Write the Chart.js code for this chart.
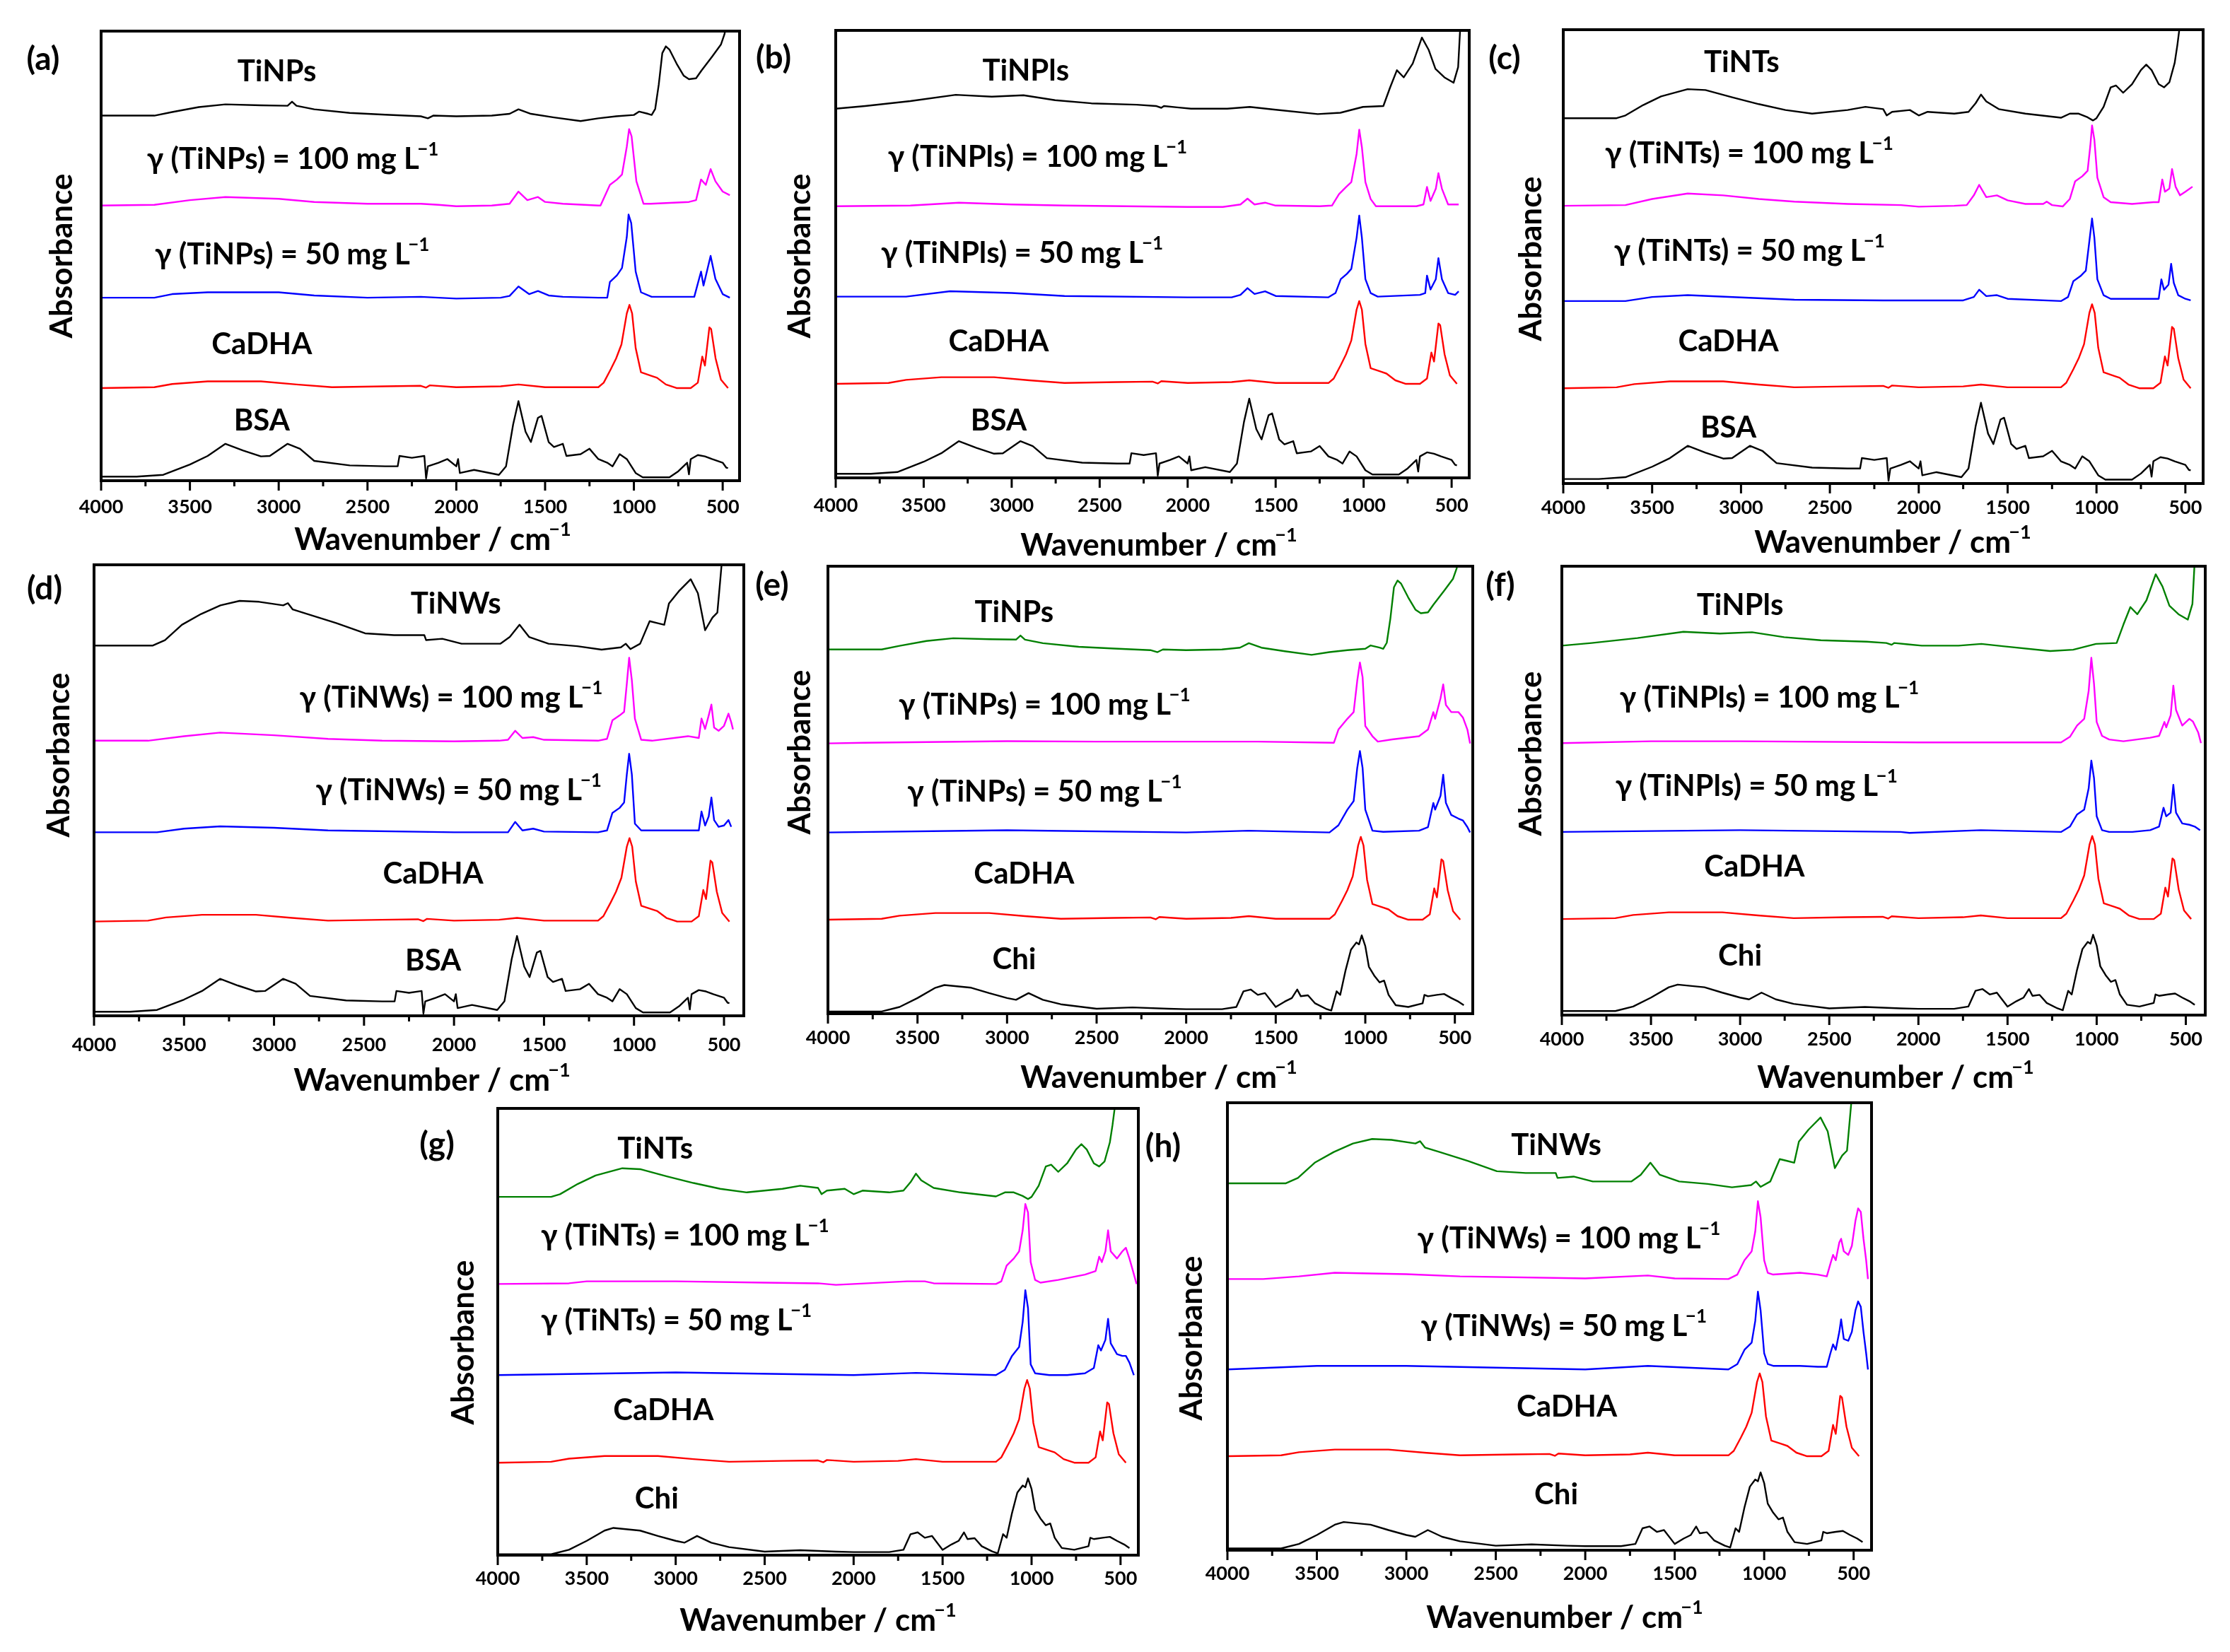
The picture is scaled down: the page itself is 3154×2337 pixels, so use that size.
<!DOCTYPE html>
<html><head><meta charset="utf-8">
<script src="https://cdn.jsdelivr.net/npm/chart.js@4.4.1/dist/chart.umd.min.js"></script>
<style>
html,body{margin:0;padding:0;background:#fff;}
body{width:3154px;height:2337px;position:relative;overflow:hidden;}
canvas.pc{position:absolute;}
</style></head><body>
<script>
// ---------- tick labels (wavenumber axis) ----------
const tickValues = [4000,3750,3500,3250,3000,2750,2500,2250,2000,1750,1500,1250,1000,750,500];

// ---------- spectra: [wavenumber cm-1, absorbance (relative, % of panel height)] ----------
const TiNPs = [[4000,0],[3700,0],[3600,0.8],[3450,1.9],[3300,2.5],[3100,2.3],[2950,2.2],[2925,3.1],[2900,2.2],[2800,1.4],[2600,0.6],[2400,0.2],[2200,-0.15],[2160,-0.6],[2130,0],[2000,-0.15],[1800,0],[1700,0.4],[1650,1.4],[1580,0.4],[1450,-0.4],[1300,-1.2],[1200,-0.6],[1100,-0.15],[1000,0.15],[970,0.9],[920,0.4],[900,0.15],[880,1.5],[860,6.9],[840,13.9],[820,15.4],[800,14.7],[760,11.6],[720,8.9],[690,8.1],[650,8.3],[620,10],[560,13.1],[510,15.8],[490,18.1],[475,21]];
const TiNPls = [[4000,0],[3833,0.6],[3576,1.7],[3318,3.1],[3113,2.7],[2933,3.0],[2753,1.9],[2547,1.2],[2290,0.9],[2180,0.6],[2150,0.2],[2135,0.6],[2060,0.3],[1981,0],[1775,0],[1647,0.4],[1518,-0.15],[1261,-1.2],[1132,-0.9],[1004,0.4],[888,0.6],[850,4.7],[811,8.6],[772,7.0],[721,10.1],[669,15.9],[631,13.2],[592,8.9],[541,7.0],[489,5.8],[463,9.3],[450,19]];
const TiNTs = [[4000,0],[3700,0],[3650,0.6],[3550,2.9],[3450,4.8],[3300,6.4],[3200,6.2],[3050,4.6],[2900,3.1],[2750,1.8],[2600,1.0],[2400,1.8],[2300,2.5],[2200,2.0],[2180,0.6],[2150,1.4],[2050,1.8],[2000,0.6],[1950,1.4],[1800,1.0],[1720,1.4],[1680,3.3],[1650,5.2],[1620,3.7],[1550,2.0],[1400,1.0],[1200,0.1],[1150,1.0],[1100,1.0],[1050,0.2],[1020,-0.5],[1000,0],[960,2.5],[920,6.8],[890,7.2],[850,5.6],[800,7.5],[750,10.6],[720,11.8],[690,10.6],[650,7.5],[620,6.8],[590,7.9],[560,12.2],[545,16.1],[535,19.2],[525,22]];
const TiNWs = [[4000,0],[3673,0],[3606,1.2],[3512,4.6],[3405,7.0],[3298,8.9],[3191,9.9],[3083,9.7],[2949,8.9],[2923,9.4],[2896,8.0],[2815,7.0],[2655,5.0],[2494,2.7],[2333,2.3],[2165,2.3],[2155,1.2],[2065,1.5],[1958,0.4],[1743,0.4],[1690,1.9],[1636,4.6],[1583,1.9],[1475,0.4],[1315,-0.15],[1180,-0.9],[1073,-0.4],[1046,0.4],[1020,-0.8],[966,0.4],[913,5.4],[872,5.0],[832,4.6],[806,9.3],[752,12.0],[685,14.7],[645,11.6],[605,3.4],[564,6.2],[537,7.3],[524,13.1],[511,19]];
const CaDHA = [[4000,0],[3700,0.2],[3600,0.9],[3400,1.5],[3100,1.5],[2900,0.8],[2700,0.2],[2400,0.4],[2200,0.5],[2170,0.1],[2150,0.6],[2000,0.2],[1750,0.4],[1650,0.8],[1500,0.2],[1200,0.2],[1170,1.2],[1130,4.2],[1100,6.6],[1070,9.7],[1040,16.6],[1025,18.5],[1010,16.6],[990,8.9],[960,3.5],[900,2.7],[870,2.3],[820,0.8],[760,0],[680,0],[640,1.2],[615,7.0],[600,5.0],[575,13.5],[565,13.1],[540,6.6],[510,1.9],[470,0]];
const BSA = [[4000,0],[3800,0],[3650,0.4],[3500,2.7],[3400,4.6],[3300,7.3],[3200,5.8],[3100,4.5],[3050,4.6],[2950,7.3],[2880,6.2],[2800,3.5],[2600,2.5],[2400,2.3],[2330,2.3],[2320,4.6],[2250,4.2],[2180,4.6],[2170,-0.4],[2160,2.3],[2100,3.1],[2050,3.9],[2000,2.3],[1990,3.9],[1980,0.8],[1900,1.5],[1760,0.4],[1720,2.3],[1680,11.6],[1650,16.8],[1610,10],[1580,7.7],[1540,13.1],[1520,13.5],[1480,7.7],[1450,6.6],[1400,7.3],[1380,4.6],[1300,5.0],[1250,6.2],[1200,3.9],[1150,3.1],[1120,2.3],[1080,5.0],[1040,3.9],[990,0.8],[950,-0.15],[800,-0.15],[750,1.2],[700,3.1],[690,0.5],[680,3.9],[640,4.8],[600,4.5],[560,3.9],[500,3.1],[480,2.0],[470,1.9]];
const Chi = [[4000,0],[3700,0],[3600,1.0],[3500,3.0],[3400,5.3],[3350,5.9],[3200,5.3],[3100,4.1],[3000,3.0],[2950,2.6],[2880,4.1],[2800,2.6],[2700,1.6],[2500,0.6],[2300,0.9],[2100,0.6],[2000,0.5],[1800,0.5],[1720,1.0],[1680,4.5],[1640,4.9],[1600,3.7],[1560,4.1],[1500,1.0],[1450,2.2],[1410,3.0],[1380,4.9],[1360,3.4],[1320,3.6],[1280,1.8],[1220,0.6],[1190,0.2],[1160,4.5],[1140,3.7],[1110,9.2],[1080,13.8],[1050,15.4],[1035,15.0],[1020,17.0],[1000,14.6],[980,10.0],[950,8.0],[920,6.5],[895,6.9],[870,3.7],[830,1.4],[760,1.0],[680,1.8],[670,3.7],[650,3.4],[600,3.7],[560,3.9],[520,3.0],[480,2.2],[450,1.4]];

// composites: gamma = 100 mg/L and 50 mg/L
const a100 = [[4000,0],[3700,0.15],[3500,1.2],[3300,1.9],[3000,1.5],[2800,0.8],[2500,0.4],[2200,0.4],[2100,0.15],[2000,-0.15],[1800,0],[1700,0.4],[1650,3.1],[1600,1.2],[1540,1.9],[1500,0.8],[1400,0.4],[1200,0],[1188,0],[1135,4.6],[1095,5.8],[1067,6.9],[1040,13.1],[1027,17],[1013,15.4],[986,5.4],[946,0.4],[906,0.4],[690,0.8],[650,1.2],[622,5.8],[595,4.6],[568,8.1],[541,5.4],[500,3.1],[460,2.3]];
const a50 = [[4000,0],[3700,0],[3600,0.8],[3400,1.2],[3000,1.2],[2800,0.5],[2500,0],[2200,0.2],[2000,-0.2],[1750,0],[1700,0.4],[1650,2.5],[1590,0.8],[1540,1.5],[1480,0.5],[1400,0.2],[1200,0],[1150,0],[1135,3.5],[1095,5],[1067,6.6],[1040,13.5],[1030,18.5],[1015,16.6],[990,5.8],[960,1.2],[900,0.2],[700,0.2],[660,0.2],[622,5.8],[608,2.7],[568,9.3],[541,4.2],[500,0.8],[460,0]];
const b100 = [[4000,0],[3576,0.15],[3300,0.8],[3000,0.4],[2700,0.15],[2000,-0.15],[1800,-0.15],[1700,0.4],[1660,1.7],[1620,0.4],[1560,0.8],[1500,0.15],[1250,0],[1180,0.15],[1140,2.7],[1100,4.3],[1070,5.4],[1040,11.7],[1025,17.1],[1010,13.2],[990,5.4],[960,1.6],[930,0],[700,0],[660,0.4],[640,4.3],[620,1.2],[590,3.9],[575,7.4],[555,3.9],[520,0.4],[480,0.4],[460,0.4]];
const b50 = [[4000,0],[3600,0],[3350,1.2],[3000,0.8],[2700,0.15],[2000,-0.15],[1750,-0.15],[1700,0.4],[1660,1.9],[1620,0.6],[1560,1.2],[1500,0.15],[1200,-0.15],[1160,0.8],[1130,3.9],[1095,5.1],[1070,6.2],[1040,13.2],[1025,18.1],[1010,13.2],[990,3.9],[960,0.8],[920,0],[680,0.4],[650,0.8],[640,4.7],[620,1.6],[590,3.9],[575,8.6],[555,3.9],[520,0.8],[480,0.4],[460,1.2]];
const c100 = [[4000,0],[3650,0.15],[3500,1.5],[3300,2.7],[3100,2.3],[2900,1.5],[2700,0.9],[2400,0.4],[2100,0.15],[2000,-0.2],[1800,0],[1730,0.15],[1690,2.3],[1660,4.6],[1620,1.9],[1560,2.3],[1500,1.2],[1400,0.4],[1300,0.4],[1280,0.9],[1250,0.15],[1190,-0.15],[1150,1.5],[1120,5.4],[1080,6.5],[1050,7.7],[1035,13.1],[1025,17.7],[1012,14.6],[995,6.2],[960,1.9],[920,0.8],[800,0.4],[680,0.8],[650,0.8],[630,5.8],[615,3.1],[590,3.8],[575,8.1],[555,4.2],[530,2.3],[500,3.1],[460,4.2]];
const c50 = [[4000,0],[3650,0],[3500,0.9],[3300,1.3],[3000,0.8],[2700,0.3],[2200,0.15],[1750,0.15],[1690,0.9],[1660,2.5],[1620,1.1],[1560,1.3],[1500,0.5],[1200,0],[1160,0.9],[1130,4.4],[1090,5.5],[1060,6.7],[1040,13.2],[1025,18.2],[1012,14],[995,4.8],[960,1.3],[920,0.5],[700,0.5],[650,0.5],[635,4.8],[620,2.5],[595,3.6],[580,8.2],[565,4],[540,1.3],[500,0.5],[470,0.15]];
const d100 = [[4000,0],[3700,0],[3500,1.0],[3300,1.8],[3000,1.2],[2700,0.4],[2400,0],[2000,-0.15],[1750,0],[1700,0.2],[1660,2.2],[1620,0.6],[1560,0.8],[1500,0.2],[1200,0],[1150,0.4],[1120,4.5],[1080,5.6],[1055,6.4],[1040,12.6],[1027,18.4],[1012,13.4],[995,4.9],[960,0.2],[900,0],[700,1.0],[640,0.6],[625,4.9],[605,2.6],[585,5.6],[570,8.0],[555,2.9],[530,2.2],[500,3.3],[475,6.0],[460,4.1],[450,2.5]];
const d50 = [[4000,0],[3650,0],[3500,0.8],[3300,1.3],[3000,1.0],[2700,0.4],[2000,0],[1700,0],[1660,2.3],[1620,0.4],[1560,0.8],[1500,0.15],[1200,0],[1150,0.4],[1120,4.3],[1080,5.4],[1055,6.6],[1040,12.8],[1027,17.4],[1012,12.8],[995,1.9],[960,0.4],[700,0.4],[640,0.4],[625,4.6],[605,1.5],[585,3.5],[570,7.7],[555,2.7],[530,1.2],[500,1.5],[475,2.7],[460,1.2]];
const e100 = [[4000,0],[3800,0.15],[3000,0.5],[2500,0.4],[2000,0.4],[1600,0.4],[1175,0.15],[1150,3.1],[1100,5.5],[1065,7],[1045,14],[1030,18.1],[1015,14.8],[1000,3.9],[960,1.6],[930,0.4],[850,0.9],[700,1.6],[650,3.1],[620,7],[610,5.5],[580,10.1],[565,13.2],[550,8.6],[520,7],[480,7],[455,5.8],[430,3.1],[415,0]];
const e50 = [[4000,0],[3000,0.5],[2000,0],[1650,0.4],[1200,0],[1150,1.6],[1100,5.1],[1065,7.0],[1045,14.4],[1030,18.2],[1015,14.4],[1000,5.1],[960,0.4],[900,0.15],[700,0.4],[650,1.2],[620,6.6],[610,5.1],[580,8.2],[565,12.9],[550,6.6],[520,3.9],[480,3.1],[455,2.7],[430,1.2],[415,0]];
const f100 = [[4000,0],[3500,0.4],[3000,0.4],[2000,0.15],[1600,0.15],[1200,0.15],[1150,1.4],[1110,3.9],[1070,5.4],[1045,11.6],[1030,19.0],[1015,13.2],[1000,4.7],[970,1.6],[930,0.8],[850,0.4],[700,1.2],[650,1.6],[620,4.7],[610,3.5],[585,6.2],[570,12.8],[555,7.4],[520,3.9],[480,5.4],[460,4.8],[430,2.3],[415,0]];
const f50 = [[4000,0],[3000,0.4],[2100,0],[2050,-0.2],[1650,0.4],[1200,0],[1150,1.2],[1110,3.9],[1070,5.0],[1045,9.7],[1030,15.9],[1015,12],[1000,3.5],[970,0.4],[930,0],[800,0],[700,0.4],[650,1.2],[625,5.4],[610,3.5],[585,4.3],[570,10.5],[555,4.3],[520,1.9],[480,1.6],[450,1.2],[420,0.4]];
const g100 = [[4000,0],[3600,0.15],[3500,0.6],[3000,0.6],[2500,0.3],[2200,0.15],[2100,-0.2],[2000,0],[1700,0.6],[1600,0.6],[1550,0.15],[1200,0],[1170,0.6],[1140,4.1],[1100,5.7],[1070,7.3],[1050,12.0],[1035,17.9],[1020,16.0],[1005,4.9],[980,0.9],[950,0.3],[850,0.9],[700,2.1],[640,2.9],[620,6.1],[605,4.9],[585,7.3],[570,12.0],[555,7.3],[520,5.7],[490,7.3],[470,8.1],[450,5.7],[430,2.9],[410,0]];
const g50 = [[4000,0],[3000,0.6],[2000,0],[1650,0.5],[1200,0],[1150,1.2],[1110,4.3],[1070,6.3],[1050,11.9],[1035,19.0],[1020,15],[1005,2.4],[980,0.4],[900,0],[800,0],[700,0.4],[650,1.6],[625,6.7],[610,5.5],[585,7.9],[570,12.6],[555,7.1],[520,4.7],[490,4.3],[470,4.3],[450,2.8],[425,0]];
const h100 = [[4000,0],[3800,0],[3600,0.6],[3400,1.4],[3000,1.1],[2700,0.6],[2000,0.15],[1650,0.8],[1500,0.15],[1200,0],[1150,1],[1110,4.2],[1070,6.2],[1050,10.6],[1035,17.4],[1020,13.8],[1000,4.2],[980,1.4],[950,1.0],[800,1.4],[700,1.0],[650,0.6],[630,3.4],[615,5.4],[600,4.2],[580,8.2],[570,9.0],[555,6.2],[530,5.4],[510,7.4],[490,13],[475,15.8],[460,15],[445,9.0],[430,4.2],[420,0]];
const h50 = [[4000,0],[3500,0.8],[3000,0.8],[2500,0.4],[2000,0],[1650,0.8],[1200,0],[1150,1.2],[1110,4.4],[1070,6],[1050,10.8],[1035,17.4],[1020,13.2],[1000,3.6],[980,1.2],[950,0.8],[800,0.8],[700,0.6],[650,0.6],[630,3.6],[615,5.6],[600,4.4],[580,8.4],[570,11.2],[555,6.8],[530,6.4],[510,8.4],[490,13.2],[475,15.2],[460,14],[445,8.4],[430,3.6],[420,0]];

// vertical stacking offsets (top -> bottom trace), % of panel height
const offsets_a = [81.2, 61.2, 40.7, 20.6, 0.9];
const offsets_b = [82.5, 60.7, 40.5, 21.0, 0.9];
const offsets_c = [80.5, 61.2, 40.2, 21.0, 1.0];
const offsets_d = [82.1, 61.0, 40.7, 20.9, 0.9];
const offsets_e = [81.4, 60.4, 40.5, 21.0, 0.5];
const offsets_f = [82.3, 60.6, 40.8, 21.4, 0.9];
const offsets_g = [80.2, 60.7, 40.3, 20.7, 0.2];
const offsets_h = [82.0, 60.6, 40.4, 21.0, 0.4];

const COLORS = ['#000000', '#ff00ff', '#0000ff', '#ff0000', '#000000'];
const GREEN = '#008000';
const FONT = 'Lato, "Open Sans", "DejaVu Sans", sans-serif';

const panels = [
 {id:'(a)', frame:[143,1046,44,680], xMin:405, top:TiNPs, c100:a100, c50:a50, bottom:BSA, off:offsets_a, topColor:'#000',
  names:['TiNPs','BSA'], lab:[[3010,90.9],[3742,71.4],[3697,50.3],[3095,30.3],[3095,13.3]],
  letter:[61,84], abs:[88,362], title:[612,764], tickOff:36},
 {id:'(b)', frame:[1182,2078,43,676], xMin:400, top:TiNPls, c100:b100, c50:b50, bottom:BSA, off:offsets_b, topColor:'#000',
  names:['TiNPls','BSA'], lab:[[2920,91],[3704,71.6],[3743,50.2],[3074,30.4],[3074,12.8]],
  letter:[1094,82], abs:[1132,362], title:[1639,772], tickOff:38},
 {id:'(c)', frame:[2211,3116,42,684], xMin:400, top:TiNTs, c100:c100, c50:c50, bottom:BSA, off:offsets_c, topColor:'#000',
  names:['TiNTs','BSA'], lab:[[2996,92.7],[3765,72.7],[3715,51.2],[3071,31.2],[3071,12.3]],
  letter:[2128,83], abs:[2166,366], title:[2677,768], tickOff:33},
 {id:'(d)', frame:[133,1052,799,1437], xMin:390, top:TiNWs, c100:d100, c50:d50, bottom:BSA, off:offsets_d, topColor:'#000',
  names:['TiNWs','BSA'], lab:[[1990,91.3],[2859,70.5],[2769,50.0],[2116,31.5],[2116,12.1]],
  letter:[63,833], abs:[84,1068], title:[611,1529], tickOff:40},
 {id:'(e)', frame:[1171,2083,801,1434], xMin:400, top:TiNPs, c100:e100, c50:e50, bottom:Chi, off:offsets_e, topColor:GREEN,
  names:['TiNPs','Chi'], lab:[[2960,89.6],[3605,69],[3557,49.5],[2905,31.2],[2960,12.1]],
  letter:[1092,828], abs:[1132,1064], title:[1639,1525], tickOff:33},
 {id:'(f)', frame:[2209,3119,801,1436], xMin:391, top:TiNPls, c100:f100, c50:f50, bottom:Chi, off:offsets_f, topColor:GREEN,
  names:['TiNPls','Chi'], lab:[[3000,91.2],[3676,70.6],[3700,50.9],[2920,33],[3000,13.2]],
  letter:[2122,828], abs:[2166,1066], title:[2681,1525], tickOff:33},
 {id:'(g)', frame:[704,1610,1568,2200], xMin:400, top:TiNTs, c100:g100, c50:g50, bottom:Chi, off:offsets_g, topColor:GREEN,
  names:['TiNTs','Chi'], lab:[[3115,90.9],[3758,71.5],[3758,52.5],[3069,32.4],[3107,12.6]],
  letter:[618,1619], abs:[656,1899], title:[1157,2293], tickOff:32},
 {id:'(h)', frame:[1736,2647,1560,2193], xMin:400, top:TiNWs, c100:h100, c50:h50, bottom:Chi, off:offsets_h, topColor:GREEN,
  names:['TiNWs','Chi'], lab:[[2162,90.4],[2939,69.6],[2919,50],[2103,32],[2162,12.4]],
  letter:[1645,1622], abs:[1686,1893], title:[2213,2289], tickOff:32}
];

const ML = 135, MR = 25, MT = 30, MB = 140;

function drawSupText(ctx, base, sup, x, y, size, align){
  ctx.font = 'bold ' + size + 'px ' + FONT;
  const bw = ctx.measureText(base).width;
  const ss = Math.round(size * 0.62);
  ctx.font = 'bold ' + ss + 'px ' + FONT;
  const gap = -size * 0.06;
  const sw = sup ? ctx.measureText(sup).width + gap : 0;
  const total = bw + sw;
  const sx = align === 'center' ? x - total / 2 : x;
  ctx.textAlign = 'left';
  ctx.textBaseline = 'middle';
  ctx.font = 'bold ' + size + 'px ' + FONT;
  ctx.fillText(base, sx, y);
  if (sup) {
    ctx.font = 'bold ' + ss + 'px ' + FONT;
    ctx.fillText(sup, sx + bw + gap, y - size * 0.33);
  }
}

const decor = {
  id: 'decor',
  afterDatasetsDraw(chart) {
    const o = chart.options.plugins.decor;
    const ctx = chart.ctx, ca = chart.chartArea;
    const xs = chart.scales.x, ys = chart.scales.y;
    ctx.save();
    ctx.strokeStyle = '#000';
    ctx.lineWidth = 3;
    tickValues.forEach(v => {
      const px = xs.getPixelForValue(v);
      const len = (v % 500 === 0) ? 14 : 8;
      ctx.beginPath(); ctx.moveTo(px, ca.bottom); ctx.lineTo(px, ca.bottom + len); ctx.stroke();
    });
    ctx.lineWidth = 4;
    ctx.strokeRect(ca.left, ca.top, ca.right - ca.left, ca.bottom - ca.top);
    ctx.fillStyle = '#000';
    o.labels.forEach(l => {
      drawSupText(ctx, l.t, l.sup, xs.getPixelForValue(l.wn), ys.getPixelForValue(l.pct), 42, l.align);
    });
    drawSupText(ctx, o.letter, '', o.letterPos[0], o.letterPos[1], 46, 'center');
    drawSupText(ctx, 'Wavenumber / cm', '\u22121', o.titlePos[0], o.titlePos[1], 44, 'center');
    ctx.save();
    ctx.translate(o.absPos[0], o.absPos[1]);
    ctx.rotate(-Math.PI / 2);
    drawSupText(ctx, 'Absorbance', '', 0, 0, 44, 'center');
    ctx.restore();
    ctx.restore();
  }
};

panels.forEach(p => {
  const [L, R, T, B] = p.frame;
  const cl = L - ML, ct = T - MT;
  const w = (R - L) + ML + MR, h = (B - T) + MT + MB;
  const cv = document.createElement('canvas');
  cv.className = 'pc';
  cv.width = w; cv.height = h;
  cv.style.left = cl + 'px'; cv.style.top = ct + 'px';
  cv.style.width = w + 'px'; cv.style.height = h + 'px';
  document.body.appendChild(cv);

  const traces = [p.top, p.c100, p.c50, CaDHA, p.bottom];
  const colors = [p.topColor, COLORS[1], COLORS[2], COLORS[3], COLORS[4]];
  const datasets = traces.map((tr, i) => ({
    data: tr.map(pt => ({x: pt[0], y: pt[1] + p.off[i]})),
    borderColor: colors[i], borderWidth: 2.4, pointRadius: 0, tension: 0, fill: false,
    borderJoinStyle: 'round'
  }));
  const nm = p.names[0];
  const labels = [
    {t: nm, sup: '', wn: p.lab[0][0], pct: p.lab[0][1], align: 'center'},
    {t: '\u03b3 (' + nm + ') = 100 mg L', sup: '\u22121', wn: p.lab[1][0], pct: p.lab[1][1], align: 'left'},
    {t: '\u03b3 (' + nm + ') = 50 mg L', sup: '\u22121', wn: p.lab[2][0], pct: p.lab[2][1], align: 'left'},
    {t: 'CaDHA', sup: '', wn: p.lab[3][0], pct: p.lab[3][1], align: 'center'},
    {t: p.names[1], sup: '', wn: p.lab[4][0], pct: p.lab[4][1], align: 'center'}
  ];
  new Chart(cv.getContext('2d'), {
    type: 'line',
    data: {datasets},
    options: {
      responsive: false, animation: false, devicePixelRatio: 1,
      layout: {padding: {left: ML, right: MR, top: MT, bottom: 0}},
      plugins: {
        legend: {display: false}, tooltip: {enabled: false},
        decor: {labels, letter: p.id, letterPos: [p.letter[0] - cl, p.letter[1] - ct],
                absPos: [p.abs[0] - cl, p.abs[1] - ct], titlePos: [p.title[0] - cl, p.title[1] - ct]}
      },
      scales: {
        x: {
          type: 'linear', reverse: true, min: p.xMin, max: 4000,
          afterBuildTicks: s => { s.ticks = tickValues.map(v => ({value: v})); },
          afterFit: s => { s.height = MB; },
          grid: {display: true, drawOnChartArea: false, drawTicks: true, tickLength: 12, color: 'rgba(0,0,0,0)'},
          border: {display: false},
          ticks: {autoSkip: false, maxRotation: 0, minRotation: 0, padding: p.tickOff - 27, color: '#000',
                  font: {family: FONT, weight: 'bold', size: 27},
                  callback: v => (v % 500 === 0 ? String(v) : '')}
        },
        y: {display: false, min: 0, max: 100}
      }
    },
    plugins: [decor]
  });
});
</script>
</body></html>
